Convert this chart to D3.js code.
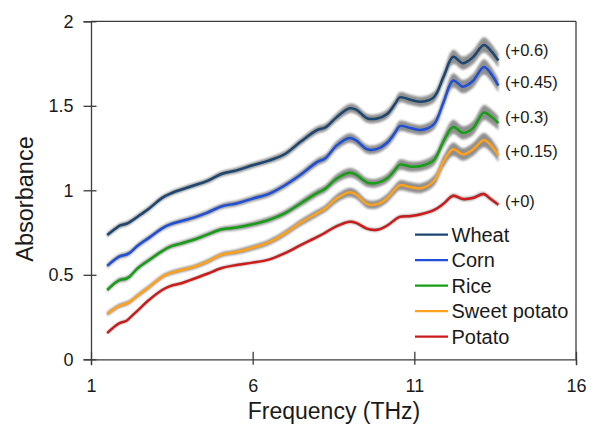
<!DOCTYPE html>
<html><head><meta charset="utf-8">
<script src="https://cdn.jsdelivr.net/npm/d3@7"></script>
<style>
html,body{margin:0;padding:0;background:#fff;}
text{font-family:"Liberation Sans",Arial,sans-serif;fill:#1a1a1a;}
</style></head>
<body><svg id="c" width="598" height="425"></svg>
<script>
// ---- data ----
const freq = [1.5,1.75,1.9,2.1,2.2,2.45,2.8,3.2,3.45,3.8,4.2,4.6,5.05,5.5,6.0,6.5,7.0,7.5,8.0,8.25,8.6,9.0,9.2,9.55,9.85,10.15,10.4,10.55,10.9,11.2,11.6,11.9,12.2,12.5,12.8,13.15,13.35,13.6];
const seriesNames = ["Wheat","Corn","Rice","Sweet potato","Potato"];
const offsetLabels = ["(+0.6)","(+0.45)","(+0.3)","(+0.15)","(+0)"];
const colors = ["#1d4670","#1f4fd6","#179e17","#ffa11c","#cc1b1b"];
const wheat = [.735,.772,.792,.802,.812,.845,.893,.955,.98,1.005,1.03,1.056,1.098,1.118,1.148,1.176,1.215,1.29,1.357,1.372,1.433,1.485,1.477,1.425,1.425,1.45,1.51,1.55,1.534,1.524,1.55,1.67,1.79,1.752,1.785,1.86,1.83,1.768];
const corn = [.553,.592,.61,.62,.63,.673,.72,.775,.798,.818,.84,.868,.906,.922,.951,.979,1.03,1.095,1.168,1.19,1.266,1.31,1.295,1.242,1.245,1.28,1.34,1.38,1.367,1.357,1.39,1.52,1.65,1.613,1.645,1.73,1.695,1.62];
const rice = [.41,.453,.47,.478,.49,.54,.588,.64,.667,.686,.709,.738,.769,.78,.799,.825,.865,.925,.985,1.01,1.07,1.104,1.092,1.045,1.044,1.07,1.12,1.152,1.14,1.144,1.178,1.29,1.375,1.34,1.365,1.46,1.44,1.398];
const sweetPotato = [.268,.302,.318,.33,.34,.378,.428,.488,.51,.528,.548,.578,.62,.635,.66,.692,.745,.81,.865,.893,.952,.988,.975,.918,.918,.952,1.005,1.03,1.018,1.012,1.055,1.17,1.243,1.212,1.24,1.298,1.27,1.205];
const potato = [.155,.197,.215,.228,.245,.29,.352,.41,.433,.45,.478,.506,.54,.558,.572,.59,.628,.677,.724,.75,.788,.814,.807,.772,.766,.79,.826,.843,.848,.858,.882,.92,.968,.948,.954,.978,.95,.915];
// spread (standard deviation band) for each series
const sdWheat = [.015,.015,.015,.015,.015,.015,.015,.015,.015,.015,.015,.016,.016,.017,.017,.018,.019,.021,.022,.023,.025,.027,.027,.026,.026,.027,.029,.03,.03,.03,.032,.036,.042,.039,.041,.045,.044,.04];
const sdCorn = [.015,.015,.015,.015,.015,.015,.015,.015,.015,.015,.015,.016,.016,.017,.017,.018,.019,.021,.022,.023,.026,.028,.028,.026,.026,.027,.029,.031,.03,.03,.032,.036,.042,.039,.041,.045,.044,.04];
const sdRice = [.014,.014,.014,.014,.014,.014,.014,.014,.014,.014,.014,.015,.015,.016,.017,.018,.019,.021,.022,.023,.026,.028,.028,.026,.026,.027,.029,.031,.03,.03,.032,.036,.042,.039,.041,.045,.044,.04];
const sdSweet = [.013,.013,.013,.013,.013,.013,.013,.013,.013,.013,.013,.014,.014,.015,.016,.017,.018,.02,.021,.022,.025,.027,.027,.025,.025,.026,.028,.03,.029,.029,.031,.035,.04,.037,.039,.043,.042,.037];
const sdPotato = [.007,.007,.007,.007,.007,.007,.007,.007,.007,.007,.007,.007,.007,.007,.007,.007,.008,.008,.008,.008,.009,.009,.009,.009,.009,.009,.009,.009,.009,.009,.009,.01,.011,.011,.011,.011,.011,.011];
const xTicks = [1,6,11,16];
const yTicks = [0,0.5,1,1.5,2];
const yTickLabels = ["0","0.5","1","1.5","2"];
const xTitle = "Frequency (THz)";
const yTitle = "Absorbance";

const values = [wheat,corn,rice,sweetPotato,potato];
const sds = [sdWheat,sdCorn,sdRice,sdSweet,sdPotato];

// ---- layout ----
const L=91, R=576, T=21.3, B=359.3;
const svg = d3.select("#c");
const x = d3.scaleLinear().domain([1,16]).range([L,R]);
const y = d3.scaleLinear().domain([0,2]).range([B,T]);

const defs = svg.append("defs");
defs.append("filter").attr("id","soft").attr("x","-5%").attr("y","-20%").attr("width","110%").attr("height","140%")
  .append("feGaussianBlur").attr("stdDeviation",0.8);

const curve = d3.curveCatmullRom.alpha(0.5);
const area = d3.area().curve(curve).x(d=>x(d.f)).y0(d=>y(d.v-d.s)).y1(d=>y(d.v+d.s));
const line = d3.line().curve(curve).x(d=>x(d.f)).y(d=>y(d.v));

const series = seriesNames.map((n,i)=>({name:n,color:colors[i],pts:freq.map((f,j)=>({f,v:values[i][j],s:sds[i][j]}))}));

const g = svg.append("g");
series.forEach(s=>{
  g.append("path").attr("d",area(s.pts)).attr("fill","#8a8a8a").attr("opacity",0.95).attr("filter","url(#soft)");
});
series.forEach(s=>{
  g.append("path").attr("d",line(s.pts)).attr("fill","none").attr("stroke",s.color).attr("stroke-width",2.5).attr("stroke-linejoin","round");
});

// offset labels
const labelY = [50,82,117,151,201];
offsetLabels.forEach((t,i)=>{
  svg.append("text").attr("x",505).attr("y",labelY[i]).attr("dy","0.35em").attr("font-size",16.5).text(t);
});

// frame
const axc="#3c3c3c";
svg.append("line").attr("x1",L).attr("x2",R).attr("y1",T).attr("y2",T).attr("stroke",axc).attr("stroke-width",1.3);
svg.append("line").attr("x1",R).attr("x2",R).attr("y1",T).attr("y2",B).attr("stroke",axc).attr("stroke-width",1.3);

// axes
const xAxis = svg.append("g").attr("transform",`translate(0,${B})`)
  .call(d3.axisBottom(x).tickValues(xTicks).tickSize(6).tickPadding(11).tickFormat(d3.format("d")));
xAxis.selectAll(".tick line").attr("y1",-7.5).attr("y2",5.5);
const yAxis = svg.append("g").attr("transform",`translate(${L},0)`)
  .call(d3.axisLeft(y).tickValues(yTicks).tickSize(7.5).tickPadding(10).tickFormat((d,i)=>yTickLabels[i]));
yAxis.selectAll(".tick line").attr("x1",-7.5).attr("x2",5.5);
[xAxis,yAxis].forEach(a=>{
  a.select(".domain").attr("stroke",axc).attr("stroke-width",1.3);
  a.selectAll(".tick line").attr("stroke",axc).attr("stroke-width",1.3);
  a.selectAll(".tick text").attr("font-size",18).attr("font-family","Liberation Sans, Arial, sans-serif").attr("fill","#1a1a1a");
});
xAxis.selectAll(".tick text").attr("dy","0.9em");

// titles
svg.append("text").attr("x",334).attr("y",419).attr("text-anchor","middle").attr("font-size",23).text(xTitle);
svg.append("text").attr("transform","translate(33,199) rotate(-90)").attr("text-anchor","middle").attr("font-size",23.5).text(yTitle);

// legend
const lg = svg.append("g");
const ly0=234.7, lstep=25.5;
series.forEach((s,i)=>{
  const yy = ly0+i*lstep;
  lg.append("line").attr("x1",415).attr("x2",448).attr("y1",yy).attr("y2",yy).attr("stroke",s.color).attr("stroke-width",2.2);
  lg.append("text").attr("x",451.5).attr("y",yy+7.2).attr("font-size",20).text(s.name);
});
</script></body></html>
